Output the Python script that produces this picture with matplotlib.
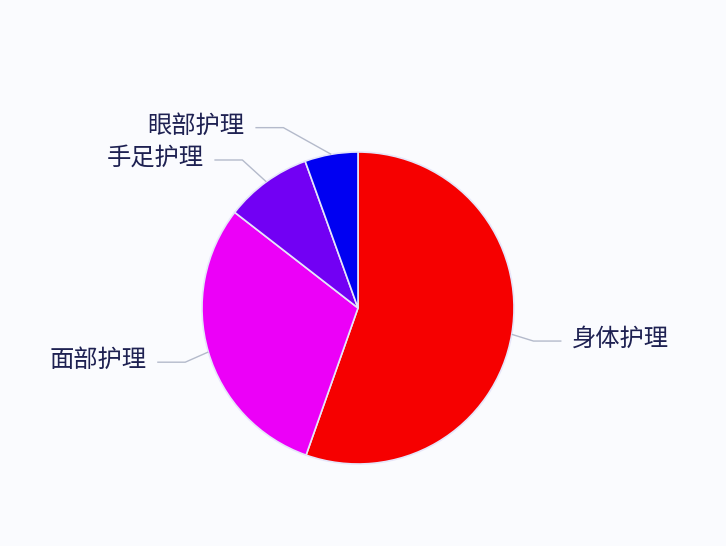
import numpy as np
import matplotlib
matplotlib.use("Agg")
import matplotlib.pyplot as plt

plt.rcParams['font.family'] = ['Noto Sans CJK SC', 'DejaVu Sans']

# data (percent shares, clockwise from 12 o'clock)
categories = ['身体护理', '面部护理', '手足护理', '眼部护理']
shares = [55.4, 30.1, 9.0, 5.5]
colors = ['#f60000', '#ec00f8', '#7200f4', '#0000f2']

# layout in pixels
W, H = 726, 546
CX, CY, R = 358, 546 - 308, 156
LEN1, LEN2 = 22, 28
# manual nudges of the label elbow (label avoidance)
ELBOW_SHIFT = [(0, -3), (-2, -4), (-11, 4), (-44, 5)]

fig = plt.figure(figsize=(W / 100, H / 100), dpi=100)
fig.patch.set_facecolor('#fafbfe')
ax = fig.add_axes([0, 0, 1, 1])

wedges, _ = ax.pie(shares, colors=colors, startangle=90, counterclock=False,
                   center=(CX, CY), radius=R,
                   wedgeprops=dict(edgecolor='#e6e6fa', linewidth=1.2))

for w, name, (sx, sy) in zip(wedges, categories, ELBOW_SHIFT):
    mid = np.deg2rad((w.theta1 + w.theta2) / 2)
    x0 = CX + R * np.cos(mid)
    y0 = CY + R * np.sin(mid)
    x1 = CX + (R + LEN1) * np.cos(mid) + sx
    y1 = CY + (R + LEN1) * np.sin(mid) + sy
    side = 1 if np.cos(mid) >= 0 else -1
    x2 = x1 + side * LEN2
    ax.plot([x0, x1, x2], [y0, y1, y1], color='#b4bacb', lw=1.0,
            solid_capstyle='butt')
    ax.text(x2 + side * 11, y1 + 2, name, fontsize=17.5, color='#1e2152',
            ha='left' if side > 0 else 'right', va='center')

ax.set_xlim(0, W)
ax.set_ylim(0, H)
ax.set_aspect('equal')
ax.axis('off')

fig.savefig('out.png', dpi=100, facecolor=fig.get_facecolor())
